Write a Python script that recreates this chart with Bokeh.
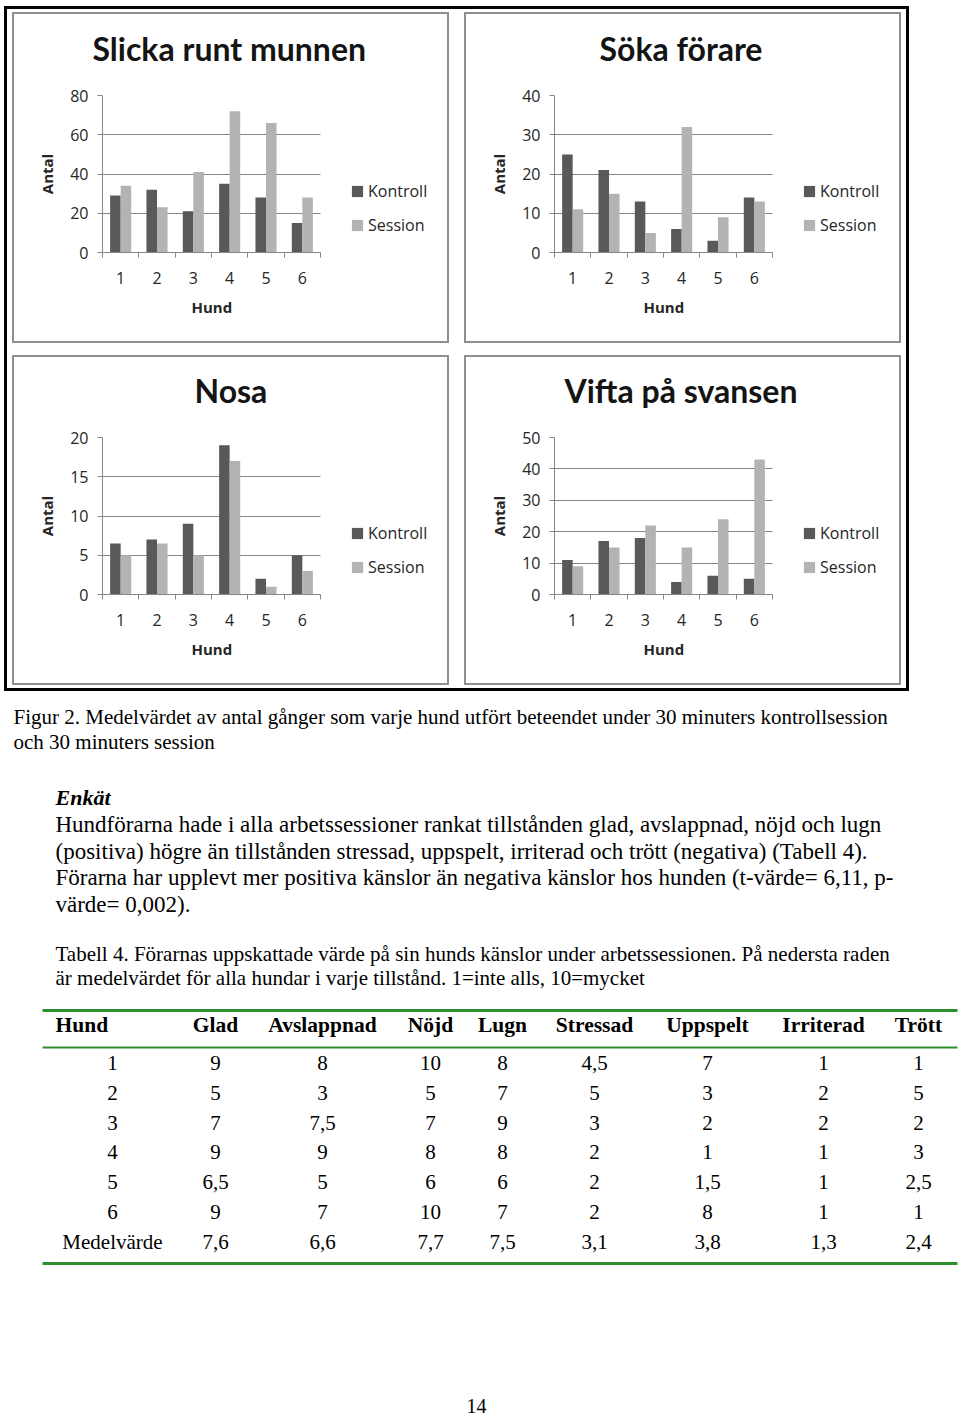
from bokeh.plotting import figure
from bokeh.models import (ColumnDataSource, Range1d, FixedTicker, Legend, LegendItem,
                          Title, Spacer)
from bokeh.layouts import column, row
from bokeh.transform import dodge
from bokeh.core.properties import value
from bokeh.embed import file_html
from bokeh.resources import INLINE

# ---------------- data ----------------
hundar = [1, 2, 3, 4, 5, 6]

slicka_kontroll = [29, 32, 21, 35, 28, 15]
slicka_session = [34, 23, 41, 72, 66, 28]
slicka_yticks = [0, 20, 40, 60, 80]

soka_kontroll = [25, 21, 13, 6, 3, 14]
soka_session = [11, 15, 5, 32, 9, 13]
soka_yticks = [0, 10, 20, 30, 40]

nosa_kontroll = [6.5, 7, 9, 19, 2, 5]
nosa_session = [5, 6.5, 5, 17, 1, 3]
nosa_yticks = [0, 5, 10, 15, 20]

vifta_kontroll = [11, 17, 18, 4, 6, 5]
vifta_session = [9, 15, 22, 15, 24, 43]
vifta_yticks = [0, 10, 20, 30, 40, 50]

table_header = ["Hund", "Glad", "Avslappnad", "Nöjd", "Lugn", "Stressad", "Uppspelt", "Irriterad", "Trött"]
table_hund = ["1", "2", "3", "4", "5", "6", "Medelvärde"]
table_glad = ["9", "5", "7", "9", "6,5", "9", "7,6"]
table_avslappnad = ["8", "3", "7,5", "9", "5", "7", "6,6"]
table_nojd = ["10", "5", "7", "8", "6", "10", "7,7"]
table_lugn = ["8", "7", "9", "8", "6", "7", "7,5"]
table_stressad = ["4,5", "5", "3", "2", "2", "2", "3,1"]
table_uppspelt = ["7", "3", "2", "1", "1,5", "8", "3,8"]
table_irriterad = ["1", "2", "2", "1", "1", "1", "1,3"]
table_trott = ["1", "5", "2", "3", "2,5", "1", "2,4"]

caption_lines = ["Figur 2. Medelvärdet av antal gånger som varje hund utfört beteendet under 30 minuters kontrollsession",
                 "och 30 minuters session"]
body_heading = "Enkät"
body_lines = ["Hundförarna hade i alla arbetssessioner rankat tillstånden glad, avslappnad, nöjd och lugn",
              "(positiva) högre än tillstånden stressad, uppspelt, irriterad och trött (negativa) (Tabell 4).",
              "Förarna har upplevt mer positiva känslor än negativa känslor hos hunden (t-värde= 6,11, p-",
              "värde= 0,002)."]
table_caption = ["Tabell 4. Förarnas uppskattade värde på sin hunds känslor under arbetssessionen. På nedersta raden",
                 "är medelvärdet för alla hundar i varje tillstånd. 1=inte alls, 10=mycket"]
page_number = "14"

# ---------------- styles ----------------
DARK = "#595959"
LIGHT = "#b3b3b3"
GRID = "#868686"
PANEL = "#8f8f8f"
TXT = "#262626"
GREEN = "#2f8f2f"
SANS = "Open Sans"
SERIF = "Liberation Serif"

W, H_TOP, H_BOT = 437, 331, 330
FL, FR = 90, 308            # left edge of plot area and right end of the category axis (px)
BR_MIN = 2                  # right border; the frame also holds the legend area
CAT_PX = FR - FL


def chart(title, kontroll, session, yticks, h, ft, fb, title_offset):
    frame_w = W - FL - BR_MIN
    x_lo = hundar[0] - 0.5
    x_cat_hi = hundar[-1] + 0.5
    x_hi = x_lo + (x_cat_hi - x_lo) * frame_w / CAT_PX
    p = figure(width=W, height=h, x_range=Range1d(x_lo, x_hi), y_range=Range1d(yticks[0], yticks[-1]),
               output_backend="svg", toolbar_location=None, tools="",
               min_border_left=FL, min_border_right=BR_MIN, min_border_top=ft, min_border_bottom=h - fb)
    p.outline_line_color = None
    p.background_fill_alpha = 0
    p.border_fill_alpha = 0

    src = ColumnDataSource(dict(hund=hundar, kontroll=kontroll, session=session))
    rk = p.vbar(x=dodge("hund", -0.145, range=p.x_range), top="kontroll", width=0.29,
                source=src, fill_color=DARK, line_color=None)
    rs = p.vbar(x=dodge("hund", 0.145, range=p.x_range), top="session", width=0.29,
                source=src, fill_color=LIGHT, line_color=None)

    xa = p.xaxis[0]
    xa.bounds = (x_lo, x_cat_hi)
    xa.ticker = FixedTicker(ticks=hundar, minor_ticks=[hh - 0.5 for hh in hundar] + [x_cat_hi])
    xa.major_tick_out = 0
    xa.major_tick_in = 0
    xa.minor_tick_out = 5
    xa.minor_tick_in = 0
    xa.minor_tick_line_color = GRID
    xa.axis_line_color = GRID
    xa.major_label_text_font = SANS
    xa.major_label_text_font_size = "16px"
    xa.major_label_text_color = TXT
    xa.major_label_standoff = 14

    ya = p.yaxis[0]
    ya.ticker = FixedTicker(ticks=yticks, minor_ticks=[])
    ya.major_tick_out = 5
    ya.major_tick_in = 0
    ya.major_tick_line_color = GRID
    ya.minor_tick_line_color = None
    ya.axis_line_color = GRID
    ya.major_label_text_font = SANS
    ya.major_label_text_font_size = "16px"
    ya.major_label_text_color = TXT
    ya.major_label_standoff = 9
    ya.axis_label = "Antal"
    ya.axis_label_text_font = SANS
    ya.axis_label_text_font_style = "bold"
    ya.axis_label_text_font_size = "15px"
    ya.axis_label_text_color = TXT
    ya.axis_label_standoff = 10

    p.xgrid.visible = False
    p.ygrid.ticker = FixedTicker(ticks=yticks)
    p.ygrid.grid_line_color = GRID
    p.ygrid.grid_line_width = 1
    try:
        p.ygrid.cross_bounds = (x_lo, x_cat_hi)
    except Exception:
        p.ygrid.visible = False
        p.segment(x0=[x_lo] * len(yticks), x1=[x_cat_hi] * len(yticks), y0=yticks, y1=yticks,
                  line_color=GRID, line_width=1, level="underlay")

    legend = Legend(items=[LegendItem(label="Kontroll", renderers=[rk]),
                           LegendItem(label="Session", renderers=[rs])],
                    location=(CAT_PX + 30, 16), orientation="vertical",
                    border_line_color=None, background_fill_alpha=0, padding=0, margin=0,
                    spacing=12, glyph_width=14, glyph_height=14, label_standoff=4,
                    label_text_font=SANS, label_text_font_size="16px", label_text_color=TXT)
    p.add_layout(legend)

    # x-axis title placed under the category axis
    p.add_layout(Title(text="Hund", align="left", offset=CAT_PX / 2 - 20, standoff=16,
                       text_font=SANS, text_font_style="bold", text_font_size="15px",
                       text_color=TXT), "below")

    # chart title (a blank spacer title sits between it and the plot area)
    p.add_layout(Title(text=" ", standoff=5, text_font_size="10px"), "above")
    p.add_layout(Title(text=title, align="left", offset=title_offset, standoff=20,
                       text_font="Lato", text_font_style="bold", text_font_size="32px",
                       text_color="#141414"), "above")
    return column(p, styles={"outline": "2px solid " + PANEL, "outline-offset": "-2px"})


tl = chart("Slicka runt munnen", slicka_kontroll, slicka_session, slicka_yticks, H_TOP, 83, 240, -10)
tr = chart("Söka förare", soka_kontroll, soka_session, soka_yticks, H_TOP, 83, 240, 45)
bl = chart("Nosa", nosa_kontroll, nosa_session, nosa_yticks, H_BOT, 82, 239, 92)
br = chart("Vifta på svansen", vifta_kontroll, vifta_session, vifta_yticks, H_BOT, 82, 239, 10)

block = column(Spacer(width=905, height=6),
               row(Spacer(width=8, height=H_TOP), tl, Spacer(width=15, height=H_TOP), tr,
                   Spacer(width=8, height=H_TOP)),
               Spacer(width=905, height=12),
               row(Spacer(width=8, height=H_BOT), bl, Spacer(width=15, height=H_BOT), br,
                   Spacer(width=8, height=H_BOT)),
               Spacer(width=905, height=6),
               styles={"outline": "3px solid black", "outline-offset": "-3px"})

# ---------------- text part ----------------
tp = figure(width=960, height=719, x_range=Range1d(0, 960), y_range=Range1d(1416, 697),
            output_backend="svg", toolbar_location=None, tools="", min_border=0,
            x_axis_location=None, y_axis_location=None)
tp.outline_line_color = None
tp.grid.visible = False


def put(xs, ys, texts, size, align="left", style="normal"):
    tp.text(x=xs, y=ys, text=texts, text_font=value(SERIF), text_font_size=size,
            text_font_style=style, text_align=align, text_baseline="middle", text_color="black")


cap_y = [716, 741]
put([13] * len(caption_lines), cap_y, caption_lines, "21px")
put([55], [797], [body_heading], "22px", style="bold italic")
body_y = [824, 851, 877, 904]
put([55] * len(body_lines), body_y, body_lines, "23px")
tcap_y = [953, 977]
put([55] * len(table_caption), tcap_y, table_caption, "21px")

col_x = [112, 215, 322, 430, 502, 594, 707, 823, 918]
row_y = [1062, 1092, 1122, 1151, 1181, 1211, 1241]
header_y = 1024
put([55], [header_y], [table_header[0]], "21.5px", style="bold")
put(col_x[1:], [header_y] * (len(table_header) - 1), table_header[1:], "21.5px", align="center", style="bold")

columns = [table_hund, table_glad, table_avslappnad, table_nojd, table_lugn,
           table_stressad, table_uppspelt, table_irriterad, table_trott]
xs, ys, ts = [], [], []
for cx, col in zip(col_x, columns):
    for ry, t in zip(row_y, col):
        xs.append(cx)
        ys.append(ry)
        ts.append(t)
put(xs, ys, ts, "21px", align="center")

tp.segment(x0=[42, 42, 42], y0=[1010, 1047, 1263], x1=[957, 957, 957], y1=[1010, 1047, 1263],
           line_color=GREEN, line_width=[3, 2, 3])

put([476], [1405], [page_number], "20px", align="center")

layout = column(Spacer(width=960, height=6), row(Spacer(width=4, height=685), block),
                Spacer(width=960, height=6), tp)

open("out.html", "w").write(file_html(layout, INLINE))
